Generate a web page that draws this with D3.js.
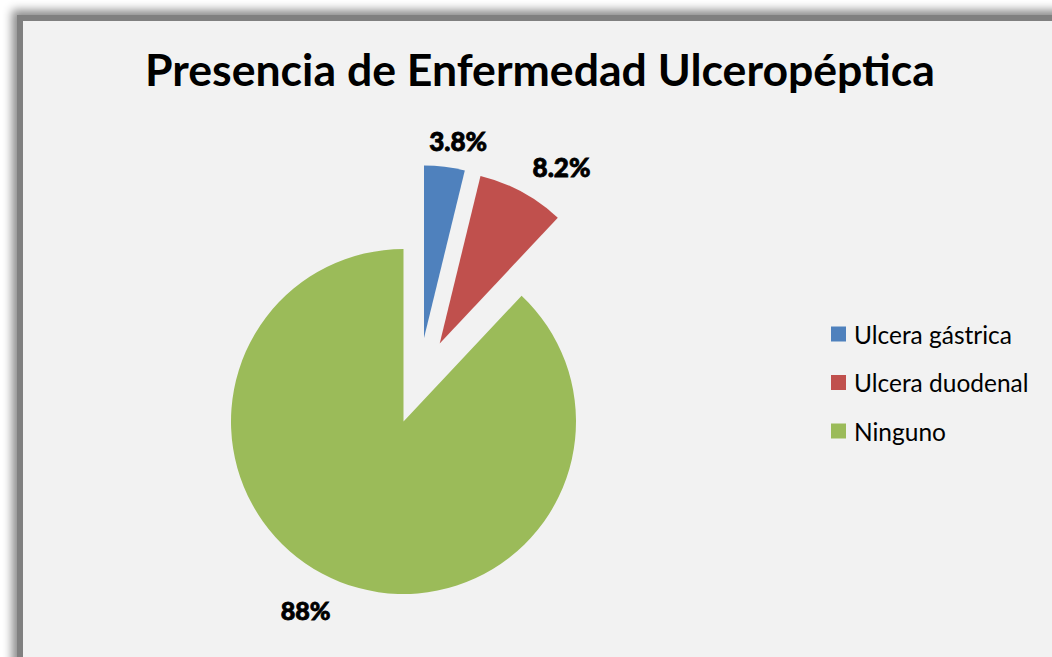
<!DOCTYPE html>
<html>
<head>
<meta charset="utf-8">
<script src="https://cdn.jsdelivr.net/npm/d3@7"></script>
<style>
  html, body { margin: 0; padding: 0; background: #ffffff; overflow: hidden; }
  svg { display: block; }
</style>
</head>
<body>
<svg id="chart" width="1052" height="657"></svg>
<script>
"use strict"

// chart data
const title = "Presencia de Enfermedad Ulceropéptica";
const categories = ["Ulcera gástrica", "Ulcera duodenal", "Ninguno"];
const values = [3.8, 8.2, 88];
const valueLabels = ["3.8%", "8.2%", "88%"];
const colors = ["#4f81bd", "#c0504d", "#9bbb59"];
// exploded slices: distance (px) and direction (deg from 12 o'clock)
const explodeDist = [86, 86, 0];
const explodeDir = [13.8, 24.9, 0];

const width = 1052, height = 657;
const cx = 403.5, cy = 421.5, radius = 172.5;

const svg = d3.select("#chart");

// frame shadow
const defs = svg.append("defs");
const f = defs.append("filter").attr("id", "shadow")
    .attr("x", -0.1).attr("y", -0.1).attr("width", 1.3).attr("height", 1.3);
f.append("feDropShadow")
    .attr("dx", -5).attr("dy", -5)
    .attr("stdDeviation", 5)
    .attr("flood-color", "#000").attr("flood-opacity", 0.45);

svg.append("rect")
    .attr("x", 20).attr("y", 18)
    .attr("width", 1200).attr("height", 800)
    .attr("fill", "#f2f2f2")
    .attr("stroke", "#808080")
    .attr("stroke-width", 6)
    .attr("filter", "url(#shadow)");

// helper: scale font so text spans the wanted width
function fitText(sel, target) {
    const base = parseFloat(sel.attr("font-size"));
    const w = sel.node().getComputedTextLength();
    sel.attr("font-size", base * target / w);
}

// title
const t = svg.append("text")
    .attr("x", 540).attr("y", 86)
    .attr("text-anchor", "middle")
    .attr("font-family", "Lato, 'Open Sans', sans-serif")
    .attr("font-weight", 700)
    .attr("font-size", 40)
    .attr("fill", "#000")
    .text(title);
fitText(t, 790);

// pie
const pie = d3.pie().sort(null).value(d => d)(values);
const arc = d3.arc().innerRadius(0).outerRadius(radius);

const slices = svg.append("g").attr("transform", `translate(${cx},${cy})`);

pie.forEach((p, i) => {
    const a = explodeDir[i] * Math.PI / 180;
    const ox = explodeDist[i] * Math.sin(a);
    const oy = -explodeDist[i] * Math.cos(a);
    const g = slices.append("g").attr("transform", `translate(${ox},${oy})`);
    g.append("path")
        .attr("d", arc(p))
        .attr("fill", colors[i]);

    // outside-end label
    const lab = g.append("text")
        .attr("font-family", "Lato, 'Open Sans', sans-serif")
        .attr("font-weight", 900)
        .attr("font-size", 24)
        .attr("fill", "#000")
        .attr("stroke", "#000")
        .attr("stroke-width", 0.8)
        .attr("text-anchor", "middle")
        .attr("dominant-baseline", "central")
        .text(valueLabels[i]);
    fitText(lab, i === 2 ? 50 : 58);
    const bb = lab.node().getBBox();
    const mid = (p.startAngle + p.endAngle) / 2;
    const pr = radius + 12;
    const px = pr * Math.sin(mid), py = -pr * Math.cos(mid);
    const kx = Math.max(-1, Math.min(1, 3 * Math.sin(mid)));
    const ky = Math.max(-1, Math.min(1, -3 * Math.cos(mid)));
    lab.attr("x", px + kx * (bb.width / 2 + 5))
       .attr("y", py + ky * (bb.height / 2) + 2);
});

// legend
const legend = svg.append("g").attr("transform", "translate(831,0)");
const rowY = d3.scalePoint().domain(categories).range([334, 431]);

categories.forEach((c, i) => {
    const y = rowY(c);
    legend.append("rect")
        .attr("x", 0).attr("y", y - 7.5)
        .attr("width", 15).attr("height", 15)
        .attr("fill", colors[i]);
    const lt = legend.append("text")
        .attr("x", 23).attr("y", y)
        .attr("dominant-baseline", "central")
        .attr("font-family", "Lato, 'Open Sans', sans-serif")
        .attr("font-size", 22)
        .attr("fill", "#000")
        .text(c);
    if (i === 0) fitText(lt, 158);
    else lt.attr("font-size", legend.select("text").attr("font-size"));
});
</script>
</body>
</html>
